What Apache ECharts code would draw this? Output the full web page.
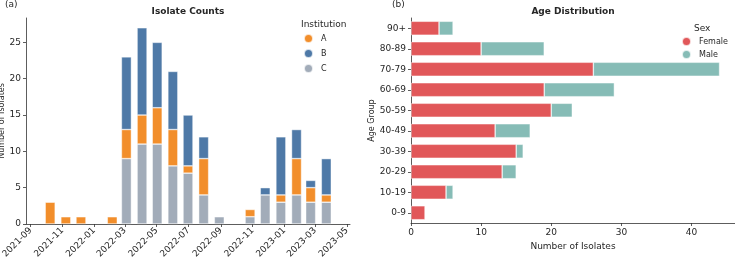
<!DOCTYPE html>
<html lang="en">
	<head>
		<meta charset="UTF-8">
		<title>Isolates</title>
		<script src="https://cdn.jsdelivr.net/npm/echarts@6/dist/echarts.min.js"></script>
		<style type="text/css">
			html, body {
				margin: 0;
				padding: 0;
				background: #fff;
			}
			#main {
				width: 735px;
				height: 260px;
			}
		</style>
	</head>
	<body>
		<div id="main"></div>
	</body>
	<script type="text/javascript">
		// months (bars sit at month end)
		var months = ['2021-09-30', '2021-10-31', '2021-11-30', '2022-01-31', '2022-02-28', '2022-03-31',
			'2022-04-30', '2022-05-31', '2022-06-30', '2022-07-31', '2022-08-31', '2022-10-31',
			'2022-11-30', '2022-12-31', '2023-01-31', '2023-02-28', '2023-03-31'];
		var instC = [0, 0, 0, 0, 9, 11, 11, 8, 7, 4, 1, 1, 4, 3, 4, 3, 3];
		var instA = [3, 1, 1, 1, 4, 4, 5, 5, 1, 5, 0, 1, 0, 1, 5, 2, 1];
		var instB = [0, 0, 0, 0, 10, 12, 9, 8, 7, 3, 0, 0, 1, 8, 4, 1, 5];
		var monthTicks = ['2021-09-01', '2021-11-01', '2022-01-01', '2022-03-01', '2022-05-01', '2022-07-01',
			'2022-09-01', '2022-11-01', '2023-01-01', '2023-03-01', '2023-05-01'];
		var countTicks = [0, 5, 10, 15, 20, 25];

		// age groups, bottom to top
		var ageGroups = ['0-9', '10-19', '20-29', '30-39', '40-49', '50-59', '60-69', '70-79', '80-89', '90+'];
		var female = [2, 5, 13, 15, 12, 20, 19, 26, 10, 4];
		var male = [0, 1, 2, 1, 5, 3, 10, 18, 9, 2];
		var ageTicks = [0, 10, 20, 30, 40];

		var font = 'DejaVu Sans';
		var ink = '#262626';

		function ts(s) {
			var p = s.split('-');
			return Date.UTC(+p[0], +p[1] - 1, +p[2]);
		}
		function pad(n) { return n < 10 ? '0' + n : '' + n; }
		function series(vals) {
			var out = [];
			for (var i = 0; i < months.length; i++) {
				out.push([ts(months[i]), vals[i] > 0 ? vals[i] : '-']);
			}
			return out;
		}
		function barStyle(c) {
			return { color: c, borderColor: 'rgba(255,255,255,0.75)', borderWidth: 0.6 };
		}
		function label(text, left, top, weight, align) {
			return { text: text, left: left, top: top, padding: 0, textAlign: align || 'left',
				textStyle: { fontFamily: font, fontSize: 9, fontWeight: weight || 'normal', color: ink } };
		}

		var tMin = ts('2021-08-23'), tMax = ts('2023-05-07');
		var axisLine = { show: true, lineStyle: { color: '#333', width: 0.8 } };
		var axisTick = { show: true, length: 3, lineStyle: { color: '#333', width: 0.8 } };

		var chart = echarts.init(document.getElementById('main'), null, { renderer: 'canvas' });
		var option = {
			useUTC: true,
			animation: false,
			textStyle: { fontFamily: font },
			title: [
				label('Isolate Counts', 188, 7, 'bold', 'center'),
				label('Age Distribution', 573, 7, 'bold', 'center'),
				label('(a)', 5, 0),
				label('(b)', 392, 0),
				label('Institution', 301, 20),
				label('Sex', 694, 24)
			],
			legend: [
				{
					data: ['A', 'B', 'C'],
					orient: 'vertical', left: 303, top: 33, padding: 0,
					icon: 'circle', itemWidth: 9, itemHeight: 9, itemGap: 4,
					textStyle: { fontFamily: font, fontSize: 8, color: ink, padding: [0, 0, 0, 3] }
				},
				{
					data: ['Female', 'Male'],
					orient: 'vertical', left: 681, top: 36, padding: 0,
					icon: 'circle', itemWidth: 9, itemHeight: 9, itemGap: 2,
					textStyle: { fontFamily: font, fontSize: 8, color: ink, padding: [0, 0, 0, 3] }
				}
			],
			grid: [
				{ left: 26, right: 385, top: 18, bottom: 36, outerBoundsMode: 'none' },
				{ left: 411, right: 0, top: 18, bottom: 37, outerBoundsMode: 'none' }
			],
			xAxis: [
				// time axis that carries the bars
				{ type: 'time', gridIndex: 0, min: tMin, max: tMax, show: false, position: 'top' },
				{
					type: 'value', gridIndex: 1, min: 0, max: 46.2,
					name: 'Number of Isolates', nameLocation: 'middle', nameGap: 16,
					nameTextStyle: { fontFamily: font, fontSize: 9, color: ink },
					axisLine: axisLine, axisTick: Object.assign({ customValues: ageTicks }, axisTick),
					splitLine: { show: false },
					axisLabel: { customValues: ageTicks, margin: 5, fontFamily: font, fontSize: 9, color: ink }
				},
				// visible date axis, same extent, month-start ticks
				{
					type: 'value', gridIndex: 0, min: tMin, max: tMax, position: 'bottom',
					axisLine: axisLine, axisTick: Object.assign({ customValues: monthTicks.map(ts) }, axisTick),
					splitLine: { show: false },
					axisLabel: {
						customValues: monthTicks.map(ts),
						rotate: 45, margin: 5, fontFamily: font, fontSize: 9, color: ink,
						formatter: function (v) {
							var d = new Date(v);
							return d.getUTCFullYear() + '-' + pad(d.getUTCMonth() + 1);
						}
					}
				}
			],
			yAxis: [
				{
					type: 'value', gridIndex: 0, min: 0, max: 28.35,
					name: 'Number of Isolates', nameLocation: 'middle', nameGap: 18,
					nameTextStyle: { fontFamily: font, fontSize: 8, color: ink },
					axisLine: axisLine, axisTick: Object.assign({ customValues: countTicks }, axisTick),
					splitLine: { show: false },
					axisLabel: { customValues: countTicks, margin: 5, fontFamily: font, fontSize: 9, color: ink }
				},
				{
					type: 'category', gridIndex: 1, data: ageGroups,
					name: 'Age Group', nameLocation: 'middle', nameGap: 31,
					nameTextStyle: { fontFamily: font, fontSize: 8, color: ink },
					axisLine: axisLine, axisTick: Object.assign({ alignWithLabel: true }, axisTick),
					splitLine: { show: false },
					axisLabel: { margin: 5, fontFamily: font, fontSize: 9, color: ink }
				}
			],
			series: [
				{ name: 'C', type: 'bar', stack: 'inst', xAxisIndex: 0, yAxisIndex: 0, barWidth: 10,
					itemStyle: barStyle('#a2acb9'), data: series(instC) },
				{ name: 'A', type: 'bar', stack: 'inst', xAxisIndex: 0, yAxisIndex: 0, barWidth: 10,
					itemStyle: barStyle('#f28e2b'), data: series(instA) },
				{ name: 'B', type: 'bar', stack: 'inst', xAxisIndex: 0, yAxisIndex: 0, barWidth: 10,
					itemStyle: barStyle('#4e79a7'), data: series(instB) },
				{ name: 'Female', type: 'bar', stack: 'sex', xAxisIndex: 1, yAxisIndex: 1, barWidth: '68%',
					itemStyle: barStyle('#e15759'), data: female },
				{ name: 'Male', type: 'bar', stack: 'sex', xAxisIndex: 1, yAxisIndex: 1, barWidth: '68%',
					itemStyle: barStyle('#86bcb6'), data: male.map(function (v) { return v > 0 ? v : '-'; }) }
			]
		};
		chart.setOption(option);
	</script>
</html>
